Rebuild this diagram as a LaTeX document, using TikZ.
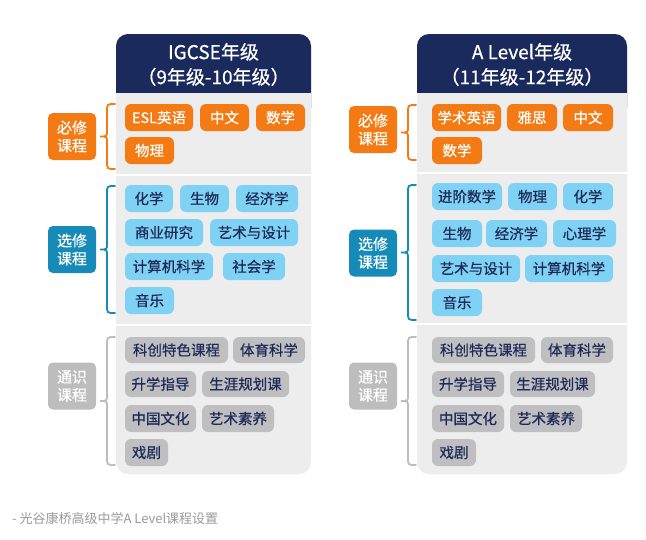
\documentclass[tikz,border=0pt]{standalone}
\usepackage{fontspec}
\setmainfont{Noto Sans CJK SC}
\newfontfamily\medfont[FakeBold=0.6]{Noto Sans CJK SC}
\definecolor{navy}{HTML}{1B2A5C}
\definecolor{panel}{HTML}{EDEDED}
\definecolor{org}{HTML}{F47A14}
\definecolor{lblue}{HTML}{80D2F5}
\definecolor{dblue}{HTML}{178BB7}
\definecolor{gpill}{HTML}{BFBFC1}
\definecolor{glab}{HTML}{BDBDBD}
\definecolor{ptext}{HTML}{1E2B58}
\definecolor{captxt}{HTML}{9A9A9A}
\tikzset{
  pillbase/.style={rounded corners=6pt, inner sep=0pt, font=\medfont\fontsize{14.5}{16}\selectfont},
  pillO/.style={pillbase, fill=org, text=white},
  pillB/.style={pillbase, fill=lblue, text=ptext},
  pillG/.style={pillbase, fill=gpill, text=ptext},
  labbox/.style={rounded corners=5pt, inner sep=0pt, minimum width=48pt, minimum height=47pt,
     align=center, text=white, font=\medfont\fontsize{15}{18}\selectfont},
  bracestyle/.style={line width=1.8pt, line cap=round},
  headtxt/.style={text=white, align=center, font=\medfont\fontsize{19}{25}\selectfont},
  sepline/.style={white, line width=2pt}
}
\newcommand\pill[7]{\node[#1,minimum width={(#4-#3)*1pt},minimum height={(#6-#5)*1pt}] (#2) at ({(#3+#4)/2},{(#5+#6)/2}) {#7};}
\newcommand\cbrace[5]{% color, xpinch, xend, ytop, ybot
  \draw[bracestyle,#1] (#3,#4) .. controls (#2+7,#4) .. (#2+7,#4+8)
   -- (#2+7,{(#4+#5)/2-6}) .. controls (#2+7,{(#4+#5)/2}) .. (#2,{(#4+#5)/2})
   .. controls (#2+7,{(#4+#5)/2}) .. (#2+7,{(#4+#5)/2+6})
   -- (#2+7,#5-8) .. controls (#2+7,#5) .. (#3,#5);}
\begin{document}
\begin{tikzpicture}[x=1pt,y=-1pt]
\useasboundingbox[fill=white] (0,0) rectangle (646,539);
% ===== left panel =====
\fill[panel, rounded corners=12pt] (116,34) rectangle (311,474);
\fill[navy, rounded corners=12pt] (116,34) rectangle (311,120);
\fill[panel] (116,93) rectangle (311,130);
\draw[sepline] (116,175) -- (311,175);
\draw[sepline] (116,325) -- (311,325);
\node[headtxt] (hL) at (213.5,64.5) {IGCSE年级\\（9年级-10年级）};
% ===== right panel =====
\fill[panel, rounded corners=12pt] (417,34) rectangle (627,474);
\fill[navy, rounded corners=12pt] (417,34) rectangle (627,120);
\fill[panel] (417,93) rectangle (627,130);
\draw[sepline] (417,173) -- (627,173);
\draw[sepline] (417,324) -- (627,324);
\node[headtxt] (hR) at (522,64.5) {A Level年级\\（11年级-12年级）};
% ===== left labels and braces =====
\node[labbox, fill=org] (lL1) at (72,136.5) {必修\\课程};
\node[labbox, fill=dblue] (lL2) at (72,249.5) {选修\\课程};
\node[labbox, fill=glab] (lL3) at (72,386) {通识\\课程};
\cbrace{org}{100}{115}{104}{169}
\cbrace{dblue}{100}{115}{186}{313}
\cbrace{glab}{100}{115}{337}{465}
% ===== right labels and braces =====
\node[labbox, fill=org] (lR1) at (373,129.5) {必修\\课程};
\node[labbox, fill=dblue] (lR2) at (373,253) {选修\\课程};
\node[labbox, fill=glab] (lR3) at (373,386) {通识\\课程};
\cbrace{org}{401}{416}{105}{160}
\cbrace{dblue}{401}{416}{185}{320}
\cbrace{glab}{401}{416}{337}{465}
% ===== left pills =====
\pill{pillO}{a1}{125}{193}{104}{131}{ESL英语}
\pill{pillO}{a2}{200}{249}{104}{131}{中文}
\pill{pillO}{a3}{256}{305}{104}{131}{数学}
\pill{pillO}{a4}{125}{174}{137}{164}{物理}
\pill{pillB}{b1}{125}{173}{185}{212}{化学}
\pill{pillB}{b2}{180}{229}{185}{212}{生物}
\pill{pillB}{b3}{236}{298}{185}{212}{经济学}
\pill{pillB}{b4}{125}{203}{219}{246}{商业研究}
\pill{pillB}{b5}{210}{298}{219}{246}{艺术与设计}
\pill{pillB}{b6}{125}{213}{253}{280}{计算机科学}
\pill{pillB}{b7}{223}{285}{253}{280}{社会学}
\pill{pillB}{b8}{125}{174}{287}{314}{音乐}
\pill{pillG}{c1}{125}{228}{337}{363}{科创特色课程}
\pill{pillG}{c2}{233}{305}{337}{363}{体育科学}
\pill{pillG}{c3}{125}{196}{371}{397}{升学指导}
\pill{pillG}{c4}{202}{289}{371}{397}{生涯规划课}
\pill{pillG}{c5}{125}{196}{405}{432}{中国文化}
\pill{pillG}{c6}{202}{274}{405}{432}{艺术素养}
\pill{pillG}{c7}{125}{168}{439}{466}{戏剧}
% ===== right pills =====
\pill{pillO}{d1}{432}{501}{104}{131}{学术英语}
\pill{pillO}{d2}{507}{557}{104}{131}{雅思}
\pill{pillO}{d3}{563}{613}{104}{131}{中文}
\pill{pillO}{d4}{432}{482}{137}{164}{数学}
\pill{pillB}{e1}{432}{502}{183}{210}{进阶数学}
\pill{pillB}{e2}{508}{557}{183}{210}{物理}
\pill{pillB}{e3}{563}{613}{183}{210}{化学}
\pill{pillB}{e4}{432}{482}{220}{247}{生物}
\pill{pillB}{e5}{486}{547}{220}{247}{经济学}
\pill{pillB}{e6}{553}{616}{220}{247}{心理学}
\pill{pillB}{e7}{432}{520}{255}{282}{艺术与设计}
\pill{pillB}{e8}{525}{613}{255}{282}{计算机科学}
\pill{pillB}{e9}{432}{482}{289}{316}{音乐}
\pill{pillG}{f1}{432}{535}{337}{363}{科创特色课程}
\pill{pillG}{f2}{541}{613}{337}{363}{体育科学}
\pill{pillG}{f3}{432}{504}{371}{397}{升学指导}
\pill{pillG}{f4}{510}{595}{371}{397}{生涯规划课}
\pill{pillG}{f5}{432}{504}{405}{432}{中国文化}
\pill{pillG}{f6}{510}{582}{405}{432}{艺术素养}
\pill{pillG}{f7}{432}{476}{439}{466}{戏剧}
% ===== caption =====
\node[anchor=west, inner sep=0pt, text=captxt, font=\fontsize{13}{15}\selectfont] (cap) at (12,519) {- 光谷康桥高级中学A Level课程设置};
\end{tikzpicture}
\end{document}
